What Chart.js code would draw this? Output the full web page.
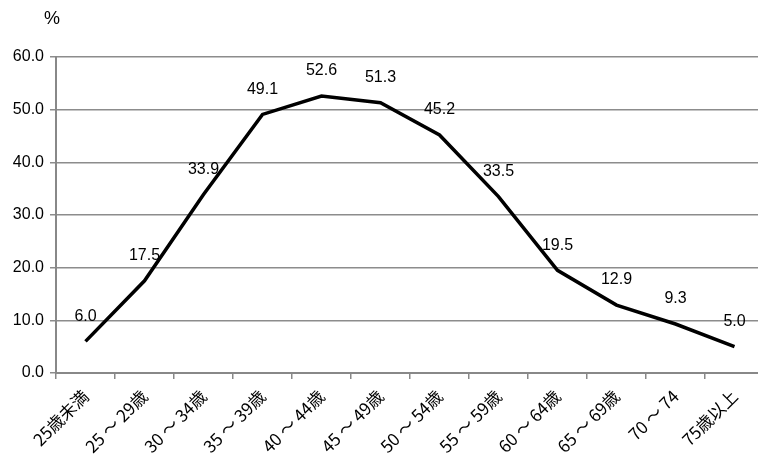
<!DOCTYPE html>
<html>
<head>
<meta charset="utf-8">
<script src="https://cdn.jsdelivr.net/npm/chart.js@4/dist/chart.umd.min.js"></script>
<style>
  html, body { margin: 0; padding: 0; background: #fff; overflow: hidden; }
  #wrap { width: 764px; height: 457px; }
</style>
</head>
<body>
<div id="wrap"><canvas id="ageChart"></canvas></div>
<script>
// data
var categories = ["25歳未満", "25 ～ 29歳", "30 ～ 34歳", "35 ～ 39歳", "40 ～ 44歳", "45 ～ 49歳",
                  "50 ～ 54歳", "55 ～ 59歳", "60 ～ 64歳", "65 ～ 69歳", "70 ～ 74", "75歳以上"];
var rates = [6.0, 17.5, 33.9, 49.1, 52.6, 51.3, 45.2, 33.5, 19.5, 12.9, 9.3, 5.0];
var yTicks = [0, 10, 20, 30, 40, 50, 60];
var unitLabel = "%";

var FONT = '"Liberation Sans", "Noto Sans CJK JP", sans-serif';
var JFONT = '"Noto Sans CJK JP", sans-serif';

// value labels above each point + unit label
var labelPlugin = {
  id: 'labelPlugin',
  afterDatasetsDraw: function(chart) {
    var ctx = chart.ctx;
    var meta = chart.getDatasetMeta(0);
    ctx.save();
    ctx.font = '16px ' + FONT;
    ctx.fillStyle = '#000';
    ctx.textAlign = 'center';
    ctx.textBaseline = 'middle';
    meta.data.forEach(function(pt, i) {
      ctx.fillText(rates[i].toFixed(1), pt.x, pt.y - 25);
    });
    ctx.font = '18px ' + FONT;
    ctx.fillText(unitLabel, chart.chartArea.left - 4, chart.chartArea.top - 38);
    ctx.restore();
  }
};

var chart = new Chart(document.getElementById('ageChart').getContext('2d'), {
  type: 'line',
  data: {
    labels: categories,
    datasets: [{
      data: rates,
      borderColor: '#000',
      borderWidth: 3.5,
      pointRadius: 0,
      tension: 0,
      fill: false
    }]
  },
  options: {
    responsive: true,
    maintainAspectRatio: false,
    animation: false,
    layout: { padding: { top: 57, right: 0, left: 0, bottom: 0 } },
    plugins: {
      legend: { display: false },
      tooltip: { enabled: false }
    },
    scales: {
      x: {
        offset: true,
        grid: { drawOnChartArea: false, offset: true, tickLength: 6, color: '#888', lineWidth: 1.5 },
        border: { color: '#888', width: 2 },
        ticks: { color: '#000', font: { size: 17, family: JFONT }, minRotation: 45, maxRotation: 45, autoSkip: false, padding: 7 },
        afterFit: function(s) { s.height = 84; }
      },
      y: {
        min: 0,
        max: 60,
        afterBuildTicks: function(s) { s.ticks = yTicks.map(function(v) { return { value: v }; }); },
        grid: { color: '#8c8c8c', lineWidth: 1.5, tickLength: 6 },
        border: { color: '#888', width: 2 },
        ticks: {
          color: '#000',
          font: { size: 16, family: FONT },
          padding: 6,
          callback: function(v) { return Number(v).toFixed(1); }
        },
        afterFit: function(s) { s.width = 56; }
      }
    }
  },
  plugins: [labelPlugin]
});
</script>
</body>
</html>
